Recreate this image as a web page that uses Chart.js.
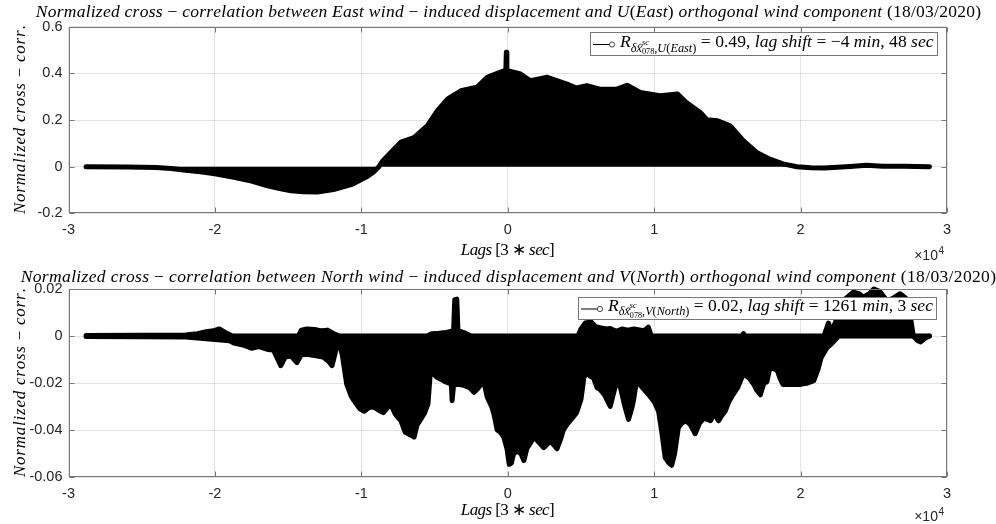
<!DOCTYPE html>
<html>
<head>
<meta charset="utf-8">
<script src="https://cdn.jsdelivr.net/npm/chart.js@4.4.1/dist/chart.umd.min.js"></script>
<style>
  html, body { margin: 0; padding: 0; background: #fff; }
  #wrap { position: relative; width: 996px; height: 524px; overflow: hidden; }
  canvas { position: absolute; left: 0; }
</style>
</head>
<body>
<div id="wrap">
  <canvas id="east" width="996" height="262" style="top:0"></canvas>
  <canvas id="north" width="996" height="262" style="top:262px"></canvas>
</div>
<script>
// Lags are counted in 3-second steps (one day = 28800 lags either side).
const lagTicks = [-30000, -20000, -10000, 0, 10000, 20000, 30000];
const eastTicks = [-0.2, 0, 0.2, 0.4, 0.6];
const northTicks = [-0.06, -0.04, -0.02, 0, 0.02];

// East displacement vs U(East): stem tips of the normalized cross-correlation
const eastLags = [-28799, -26000, -24000, -23000, -22000, -21000, -20000, -18700, -17500, -16400,
  -15500, -14800, -14000, -13000, -11900, -10700, -9600, -9200, -8800, -8570,
  -8000, -7300, -6400, -5500, -4800, -4100, -3200, -2100, -1400, -500,
  -250, -130, -96, -60, 50, 870, 1550, 2700, 4050, 4700,
  5400, 6300, 7450, 8150, 9050, 10400, 11600, 12200, 13150, 13600,
  14300, 15200, 16100, 17000, 17900, 18800, 19750, 20700, 21600, 22500,
  23400, 24500, 25600, 27000, 28799];
const eastCorr = [0, -0.001, -0.003, -0.008, -0.015, -0.022, -0.030, -0.045, -0.062, -0.082,
  -0.095, -0.103, -0.107, -0.108, -0.098, -0.077, -0.042, -0.025, 0, 0.022,
  0.06, 0.105, 0.125, 0.175, 0.24, 0.29, 0.325, 0.34, 0.383, 0.405,
  0.41, 0.415, 0.49, 0.415, 0.41, 0.397, 0.368, 0.383, 0.354, 0.337,
  0.347, 0.332, 0.332, 0.349, 0.318, 0.304, 0.311, 0.275, 0.232, 0.201,
  0.197, 0.175, 0.111, 0.061, 0.032, 0.012, 0, -0.004, -0.006, -0.002,
  0.001, 0.006, 0.002, 0.002, 0];

// North displacement vs V(North): highest (positive) stem tips
const northUpperLags = [-28799, -25000, -22000, -21200, -20600, -20100, -19700, -19300, -18800, -14300,
  -14100, -13700, -13200, -12700, -12300, -11900, -11500, -5500, -5200, -4700,
  -4200, -3900, -3700, -3620, -3480, -3400, -3250, -2900, -2500, 4800,
  5000, 5300, 5700, 6000, 6300, 6700, 7000, 7400, 7800, 8200,
  8600, 9300, 9600, 9800, 16000, 16100, 16200, 21600, 21900, 22100,
  22400, 22700, 23100, 23600, 24000, 24300, 24700, 25000, 25400, 25900,
  26300, 26800, 27200, 27500, 27700, 28799];
const northUpperCorr = [0.0002, 0.0003, 0.0004, 0.001, 0.0018, 0.0022, 0.003, 0.0015, 0, 0,
  0.0025, 0.003, 0.0028, 0.0022, 0.0025, 0.001, 0, 0, 0.001, 0.0012,
  0.0015, 0.002, 0.002, 0.0155, 0.0157, 0.002, 0.002, 0.0012, 0, 0,
  0.003, 0.0055, 0.006, 0.004, 0.0035, 0.003, 0.0032, 0.002, 0.003, 0.0025,
  0.003, 0.0022, 0.0038, 0, 0, 0.001, 0, 0, 0.0055, 0.002,
  0.006, 0.0145, 0.016, 0.0186, 0.018, 0.0165, 0.018, 0.020, 0.019, 0.015,
  0.016, 0.018, 0.016, 0.008, 0, 0];

// North displacement vs V(North): lowest (negative) stem tips
const northLowerLags = [-28799, -25000, -22000, -19000, -18700, -18000, -17500, -17000, -16400, -16000,
  -15700, -15500, -15200, -14800, -14400, -14100, -13700, -13000, -12600, -12200,
  -12000, -11700, -11500, -11300, -11000, -10700, -10500, -10100, -9800, -9400,
  -9100, -8700, -8500, -8000, -7700, -7500, -7300, -7000, -6600, -6400,
  -6200, -6000, -5700, -5450, -5300, -5100, -4800, -4400, -4100, -3850,
  -3800, -3700, -3400, -3000, -2600, -2300, -2000, -1650, -1400, -1100,
  -950, -720, -500, -270, -50, 100, 250, 400, 640, 900,
  1100, 1300, 1600, 1800, 2100, 2450, 2700, 2900, 3100, 3360,
  3600, 3800, 4050, 4400, 4700, 5000, 5200, 5400, 5600, 5850,
  6100, 6300, 6600, 7000, 7200, 7450, 7700, 8000, 8250, 8500,
  8600, 8800, 9200, 9600, 10000, 10300, 10500, 10750, 11000, 11200,
  11400, 11650, 11900, 12200, 12500, 12800, 13100, 13400, 13850, 14100,
  14400, 14600, 14850, 15100, 15400, 15700, 16100, 16500, 16800, 17000,
  17250, 17500, 17700, 17900, 18200, 18400, 18600, 18800, 19200, 19600,
  20000, 20500, 20900, 21200, 21400, 21800, 22000, 22300, 22600, 27700,
  28000, 28200, 28500, 28799];
const northLowerCorr = [-0.0002, -0.0003, -0.0004, -0.002, -0.003, -0.004, -0.0052, -0.0045, -0.0057, -0.006,
  -0.010, -0.0126, -0.009, -0.0085, -0.0113, -0.008, -0.0078, -0.0085, -0.009, -0.011,
  -0.0126, -0.005, -0.003, -0.008, -0.0205, -0.0255, -0.0275, -0.031, -0.032, -0.030,
  -0.0305, -0.032, -0.0326, -0.029, -0.033, -0.0347, -0.036, -0.041, -0.0423, -0.043,
  -0.038, -0.036, -0.033, -0.029, -0.0165, -0.016, -0.0177, -0.019, -0.0199, -0.0205,
  -0.0275, -0.021, -0.0205, -0.021, -0.022, -0.024, -0.022, -0.019, -0.026, -0.030,
  -0.033, -0.040, -0.041, -0.043, -0.048, -0.0546, -0.054, -0.050, -0.049, -0.050,
  -0.053, -0.048, -0.045, -0.043, -0.045, -0.0475, -0.046, -0.0446, -0.046, -0.048,
  -0.044, -0.040, -0.0376, -0.035, -0.0326, -0.027, -0.0177, -0.015, -0.017, -0.0177,
  -0.022, -0.0227, -0.025, -0.030, -0.025, -0.019, -0.022, -0.030, -0.0355, -0.030,
  -0.027, -0.019, -0.022, -0.0248, -0.028, -0.032, -0.040, -0.0517, -0.054, -0.055,
  -0.050, -0.039, -0.037, -0.036, -0.038, -0.0416, -0.037, -0.035, -0.036, -0.033,
  -0.036, -0.034, -0.032, -0.028, -0.0248, -0.022, -0.016, -0.018, -0.0205, -0.023,
  -0.025, -0.020, -0.0195, -0.0135, -0.014, -0.0145, -0.018, -0.0206, -0.0206, -0.0205,
  -0.0206, -0.020, -0.019, -0.014, -0.0093, -0.005, -0.004, -0.002, 0, 0,
  -0.002, -0.0025, -0.001, 0];

const SERIF = '"Liberation Serif", "Times New Roman", serif';
const SANS = '"Liberation Sans", Arial, sans-serif';
const INK = '#262626';
const FRAME = '#777777';
const GRID = 'rgba(38,38,38,0.13)';

// ---- mixed italic / upright text runs (math-style labels) ----
function fontOf(r, k) {
  return (r.i ? 'italic ' : '') + (r.s * k).toFixed(2) + 'px ' + SERIF;
}
function measureRuns(ctx, runs, k) {
  let w = 0, n = 0;
  for (const r of runs) {
    ctx.font = fontOf(r, k);
    const rw = ctx.measureText(r.t).width;
    if (!r.over) { w += rw; n += [...r.t].length; }
  }
  return { w, n };
}
// mode: 'space' stretches letter spacing to the target width, 'scale' scales the font sizes
function drawRuns(ctx, runs, x, y, align, target, mode) {
  let k = 1, ls = 0;
  let m = measureRuns(ctx, runs, 1);
  if (target && mode === 'scale') { k = target / m.w; m = measureRuns(ctx, runs, k); }
  if (target && mode === 'space') ls = (target - m.w) / Math.max(1, m.n - 1);
  const total = m.w + ls * (m.n - 1);
  let cx = align === 'center' ? x - total / 2 : align === 'right' ? x - total : x;
  ctx.textBaseline = 'alphabetic';
  ctx.textAlign = 'left';
  for (const r of runs) {
    ctx.font = fontOf(r, k);
    const dy = (r.dy || 0) * k;
    let px = cx;
    for (const ch of r.t) {
      ctx.fillText(ch, px, y + dy);
      const cw = ctx.measureText(ch).width;
      if (r.hat) {
        const hx = px + cw / 2 + 1 * k, hy = y + dy - r.s * k * 0.62;
        ctx.save();
        ctx.lineWidth = 0.8; ctx.strokeStyle = ctx.fillStyle;
        ctx.beginPath();
        ctx.moveTo(hx - 2 * k, hy + 1.6 * k); ctx.lineTo(hx, hy); ctx.lineTo(hx + 2 * k, hy + 1.6 * k);
        ctx.stroke();
        ctx.restore();
      }
      px += cw + ls;
    }
    if (!r.over) cx = px;
  }
}

function legendRuns(sym, val, shift) {
  return [
    { t: 'R', i: true, s: 15 },
    { t: 'δ', i: true, s: 10.5, dy: 4 },
    { t: 'x', i: true, s: 10.5, dy: 4, hat: true },
    { t: 'sc', i: true, s: 7, dy: -2, over: true },
    { t: '078', s: 7, dy: 6 },
    { t: ',', s: 10.5, dy: 4 },
    { t: sym[0], i: true, s: 10.5, dy: 4 },
    { t: '(', s: 10.5, dy: 4 },
    { t: sym[1], i: true, s: 10.5, dy: 4 },
    { t: ')', s: 10.5, dy: 4 },
    { t: ' = ' + val + ', ', s: 15 },
    { t: 'lag shift', i: true, s: 15 },
    { t: ' = ' + shift[0] + ' ', s: 15 },
    { t: 'min', i: true, s: 15 },
    { t: ', ' + shift[1] + ' ', s: 15 },
    { t: 'sec', i: true, s: 15 }
  ];
}
function titleRuns(dir, sym) {
  const s = 17.5;
  return [
    { t: 'Normalized cross ', i: true, s },
    { t: '− ', s },
    { t: 'correlation between ' + dir + ' wind ', i: true, s },
    { t: '− ', s },
    { t: 'induced displacement and ' + sym[0], i: true, s },
    { t: '(', s },
    { t: sym[1], i: true, s },
    { t: ')', s },
    { t: ' orthogonal wind component ', i: true, s },
    { t: '(18/03/2020)', s }
  ];
}
const yLabelRuns = [
  { t: 'Normalized cross ', i: true, s: 17 }, { t: '− ', s: 17 },
  { t: 'corr', i: true, s: 17 }, { t: '.', s: 17 }
];
const xLabelRuns = [
  { t: 'Lags ', i: true, s: 17 }, { t: '[3 ∗ ', s: 17 },
  { t: 'sec', i: true, s: 17 }, { t: ']', s: 17 }
];

function decor(p) {
  return {
    id: 'decor',
    afterDraw(chart) {
      const ctx = chart.ctx, a = chart.chartArea;
      const xs = chart.scales.x, ys = chart.scales.y;
      const L = Math.round(a.left) + 0.5, R = Math.round(a.right) - 0.5;
      const T = Math.round(a.top) + 0.5, B = Math.round(a.bottom) - 0.5;
      ctx.save();
      // axes box with inward tick marks
      ctx.strokeStyle = FRAME; ctx.lineWidth = 1;
      ctx.strokeRect(L, T, R - L, B - T);
      ctx.beginPath();
      for (const t of xs.ticks) {
        const px = Math.round(xs.getPixelForValue(t.value)) + 0.5;
        ctx.moveTo(px, B); ctx.lineTo(px, B - 5);
        ctx.moveTo(px, T); ctx.lineTo(px, T + 5);
      }
      for (const t of ys.ticks) {
        const py = Math.round(ys.getPixelForValue(t.value)) + 0.5;
        ctx.moveTo(L, py); ctx.lineTo(L + 5, py);
        ctx.moveTo(R, py); ctx.lineTo(R - 5, py);
      }
      ctx.stroke();

      // legend box
      const g = p.legend;
      ctx.fillStyle = '#fff';
      ctx.fillRect(g.x, g.y, g.w, g.h);
      ctx.strokeStyle = FRAME;
      ctx.strokeRect(g.x + 0.5, g.y + 0.5, g.w - 1, g.h - 1);
      const iy = g.y + g.h / 2 + 0.5;
      ctx.strokeStyle = '#000'; ctx.lineWidth = 1;
      ctx.beginPath(); ctx.moveTo(g.x + 3, iy); ctx.lineTo(g.x + 19.5, iy); ctx.stroke();
      ctx.strokeStyle = '#333'; ctx.lineWidth = 0.9;
      ctx.beginPath(); ctx.arc(g.x + 22, iy, 2.6, 0, Math.PI * 2); ctx.stroke();
      ctx.fillStyle = '#000';
      drawRuns(ctx, p.legendRuns, g.x + 30, g.base, 'left', g.x + g.w - 4 - (g.x + 30), 'scale');

      // title, axis labels, exponent
      const cx = (a.left + a.right) / 2;
      drawRuns(ctx, p.titleRuns, cx, p.titleY, 'center', p.titleW, 'space');
      drawRuns(ctx, xLabelRuns, cx, p.xLabelY, 'center', 94, 'space');
      ctx.save();
      ctx.translate(p.yLabelX, (a.top + a.bottom) / 2);
      ctx.rotate(-Math.PI / 2);
      drawRuns(ctx, yLabelRuns, 0, 0, 'center', 188, 'space');
      ctx.restore();

      ctx.fillStyle = INK;
      ctx.textAlign = 'right';
      ctx.font = '10px ' + SANS;
      ctx.fillText('4', a.right - 3, p.expY - 6);
      const w4 = ctx.measureText('4').width;
      ctx.font = '14px ' + SANS;
      ctx.fillText('×10', a.right - 3 - w4 - 0.5, p.expY);
      ctx.restore();
    }
  };
}

function envelope(lags, vals) {
  return {
    data: lags.map((x, i) => ({ x, y: vals[i] })),
    showLine: true,
    fill: 'origin',
    borderColor: '#000',
    backgroundColor: '#000',
    borderWidth: 5,
    borderJoinStyle: 'round',
    borderCapStyle: 'round',
    pointRadius: 0,
    tension: 0,
    clip: 4
  };
}

function makePanel(id, datasets, yTicks, yFmt, geo, p) {
  return new Chart(document.getElementById(id), {
    type: 'scatter',
    data: { datasets },
    options: {
      responsive: false,
      animation: false,
      events: [],
      layout: { padding: { left: 0, right: 996 - geo.right, top: geo.top, bottom: 0 } },
      plugins: { legend: { display: false }, tooltip: { enabled: false }, title: { display: false } },
      scales: {
        x: {
          type: 'linear',
          min: lagTicks[0], max: lagTicks[lagTicks.length - 1],
          afterBuildTicks: s => { s.ticks = lagTicks.map(v => ({ value: v })); },
          afterFit: s => { s.height = geo.h - geo.bottom; },
          grid: { color: GRID, drawTicks: false, lineWidth: 1 },
          border: { display: false },
          ticks: {
            padding: 8, color: INK, maxRotation: 0, autoSkip: false,
            font: { family: SANS, size: 14.5 },
            callback: v => String(Math.round(v / 1000) / 10)
          }
        },
        y: {
          min: yTicks[0], max: yTicks[yTicks.length - 1],
          afterBuildTicks: s => { s.ticks = yTicks.map(v => ({ value: v })); },
          afterFit: s => { s.width = geo.left; },
          grid: { color: GRID, drawTicks: false, lineWidth: 1 },
          border: { display: false },
          ticks: {
            padding: 6, color: INK, autoSkip: false,
            font: { family: SANS, size: 14.5 },
            callback: yFmt
          }
        }
      }
    },
    plugins: [decor(p)]
  });
}

makePanel('east', [envelope(eastLags, eastCorr)], eastTicks,
  v => v === 0 ? '0' : String(Math.round(v * 10) / 10),
  { h: 262, top: 26.6, bottom: 213.4, left: 68.5, right: 947 },
  {
    titleRuns: titleRuns('East', ['U', 'East']), titleY: 17, titleW: 944,
    xLabelY: 255, expY: 260, yLabelX: 25,
    legend: { x: 590, y: 32, w: 348, h: 24, base: 47 },
    legendRuns: legendRuns(['U', 'East'], '0.49', ['−4', '48'])
  });

makePanel('north', [envelope(northUpperLags, northUpperCorr), envelope(northLowerLags, northLowerCorr)], northTicks,
  v => v === 0 ? '0' : String(Math.round(v * 100) / 100),
  { h: 262, top: 27, bottom: 215, left: 68.5, right: 947 },
  {
    titleRuns: titleRuns('North', ['V', 'North']), titleY: 20, titleW: 974,
    xLabelY: 253, expY: 259, yLabelX: 25,
    legend: { x: 578, y: 35, w: 359, h: 23, base: 48.5 },
    legendRuns: legendRuns(['V', 'North'], '0.02', ['1261', '3'])
  });
</script>
</body>
</html>
